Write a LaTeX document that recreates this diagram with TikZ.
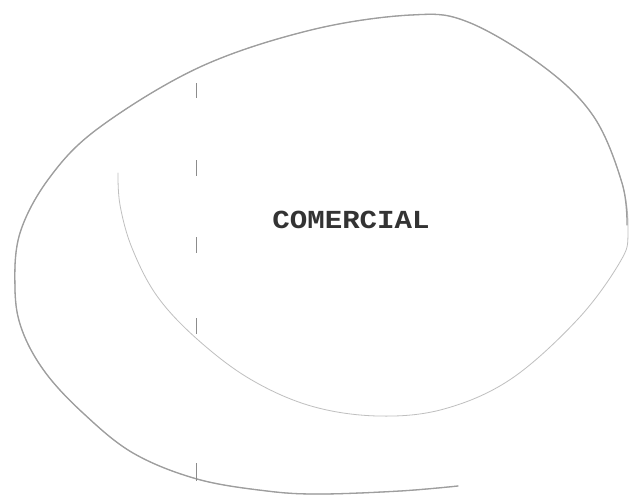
\documentclass[tikz,border=0pt]{standalone}
\usepackage{fontspec}
\newfontfamily\typefont{Liberation Mono}
\begin{document}
\begin{tikzpicture}[x=1pt,y=-1pt,
  outerline/.style={draw=black!38,line width=1.3pt,line cap=round},
  innerline/.style={draw=black!25,line width=0.8pt,line cap=round},
  dashmark/.style={draw=black!45,line width=0.9pt},
  label/.style={font=\typefont\bfseries\fontsize{26}{26}\selectfont,text=black!80,inner sep=0pt,xscale=1.12}]
\useasboundingbox[fill=white] (0,0) rectangle (631,496);
% whole contour, thin (inner part shows)
\draw[innerline] plot[smooth,tension=0.6] coordinates {
  (458,486) (400,491) (320,494) (267,491) (197,479) (133,453) (83,413)
  (45,372) (22,330) (15,289) (20,233) (50,177) (100,127) (200,67)
  (311,30) (411,15) (468,22) (544,67) (594,117) (622,183) (628,233)
  (620,262) (578,319) (511,379) (444,409) (378,416) (311,406)
  (250,379) (197,339) (157,296) (132,248) (120,205) (118,173)};
% outer part, heavier
\draw[outerline] plot[smooth,tension=0.6] coordinates {
  (458,486) (400,491) (320,494) (267,491) (197,479) (133,453) (83,413)
  (45,372) (22,330) (15,289) (20,233) (50,177) (100,127) (200,67)
  (311,30) (411,15) (468,22) (544,67) (594,117) (622,183) (627,225)};
% dashed vertical marks
\coordinate (d1a) at (196,83);  \coordinate (d1b) at (196,98);
\coordinate (d2a) at (196,160); \coordinate (d2b) at (196,176);
\coordinate (d3a) at (196,237); \coordinate (d3b) at (196,253);
\coordinate (d4a) at (196,318); \coordinate (d4b) at (196,334);
\coordinate (d5a) at (196,463); \coordinate (d5b) at (196,481);
\draw[dashmark] (d1a) -- (d1b);
\draw[dashmark] (d2a) -- (d2b);
\draw[dashmark] (d3a) -- (d3b);
\draw[dashmark] (d4a) -- (d4b);
\draw[dashmark] (d5a) -- (d5b);
\node[label] (comercial) at (351,220) {COMERCIAL};
\end{tikzpicture}
\end{document}
